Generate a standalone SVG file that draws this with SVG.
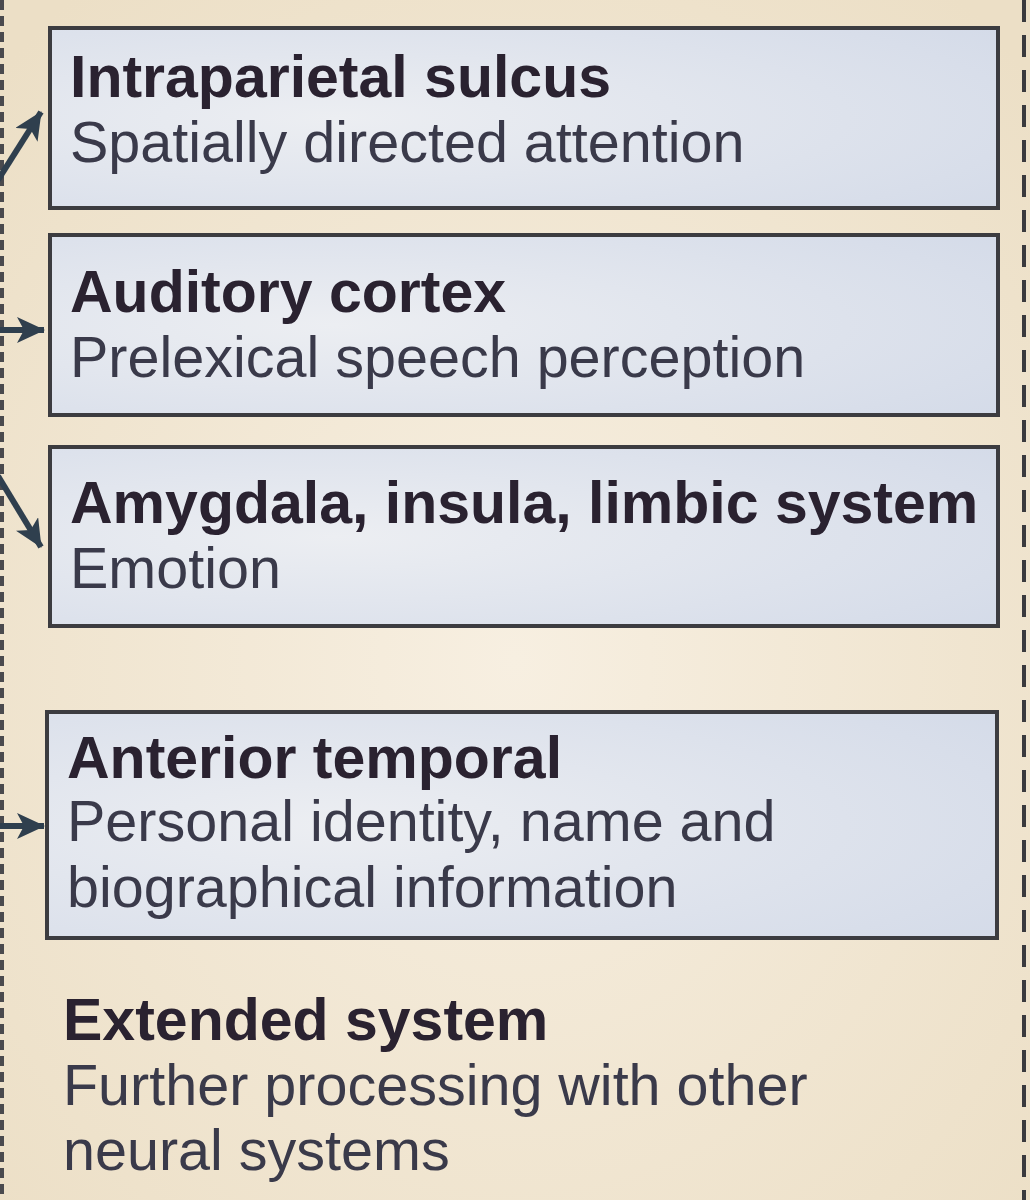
<svg xmlns="http://www.w3.org/2000/svg" width="1030" height="1200" viewBox="0 0 1030 1200">
<defs>
<radialGradient id="bg" cx="0.5" cy="0.55" r="0.7">
<stop offset="0" stop-color="#f7efe1"/>
<stop offset="1" stop-color="#ecdfc6"/>
</radialGradient>
<radialGradient id="boxfill" cx="0.3" cy="0.5" r="0.9">
<stop offset="0" stop-color="#eceef2"/>
<stop offset="1" stop-color="#d3dae8"/>
</radialGradient>
<marker id="ah" viewBox="0 0 28 26" refX="27" refY="13" markerWidth="28" markerHeight="26" orient="auto" markerUnits="userSpaceOnUse">
<path d="M0,0 L28,13 L0,26 L7,13 Z" fill="#2f3f4e"/>
</marker>
<style>
.box{fill:url(#boxfill);stroke:#3c3c40;stroke-width:4}
.t{font-family:"Liberation Sans",Arial,sans-serif;font-weight:bold;font-size:59px;fill:#2a2230}
.s{font-family:"Liberation Sans",Arial,sans-serif;font-size:57.5px;fill:#3a3a4a}
.dashl{stroke:#4a4a4e;stroke-width:4;stroke-dasharray:10 6;fill:none}
.dashr{stroke:#3a3a3e;stroke-width:4;stroke-dasharray:22 13;fill:none}
.arr{stroke:#2f3f4e;stroke-width:6;fill:none;marker-end:url(#ah)}
</style>
</defs>
<rect width="1030" height="1200" fill="url(#bg)"/>
<line class="dashl" x1="2" y1="0" x2="2" y2="1200"/>
<line class="dashr" x1="1024" y1="0" x2="1024" y2="1200"/>
<g id="connectors">
<line class="arr" x1="-2" y1="180" x2="41" y2="112"/>
<line class="arr" x1="0" y1="330" x2="44" y2="330"/>
<line class="arr" x1="-2" y1="476" x2="41" y2="547"/>
<line class="arr" x1="0" y1="826" x2="44" y2="826"/>
</g>
<g id="intraparietal">
<rect class="box" x="50" y="28" width="948" height="180"/>
<text class="t" x="70" y="97">Intraparietal sulcus</text>
<text class="s" x="70" y="162">Spatially directed attention</text>
</g>
<g id="auditory">
<rect class="box" x="50" y="235" width="948" height="180"/>
<text class="t" x="70" y="312">Auditory cortex</text>
<text class="s" x="70" y="377">Prelexical speech perception</text>
</g>
<g id="amygdala">
<rect class="box" x="50" y="447" width="948" height="179"/>
<text class="t" x="70" y="523">Amygdala, insula, limbic system</text>
<text class="s" x="70" y="588">Emotion</text>
</g>
<g id="anterior">
<rect class="box" x="47" y="712" width="950" height="226"/>
<text class="t" x="67" y="778">Anterior temporal</text>
<text class="s" x="67" y="841">Personal identity, name and</text>
<text class="s" x="67" y="907">biographical information</text>
</g>
<g id="extended">
<text class="t" x="63" y="1040">Extended system</text>
<text class="s" x="63" y="1105">Further processing with other</text>
<text class="s" x="63" y="1170">neural systems</text>
</g>
</svg>
